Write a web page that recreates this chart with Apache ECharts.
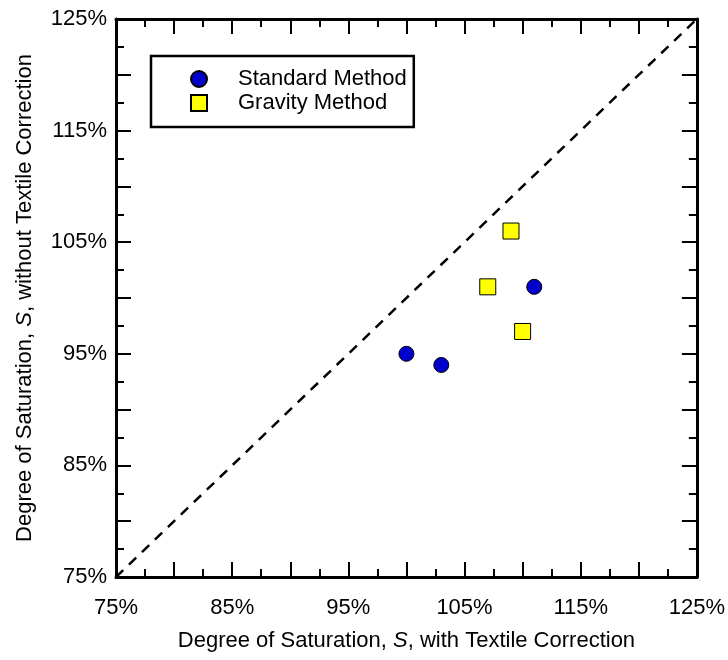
<!DOCTYPE html>
<html>
<head>
<meta charset="utf-8">
<script src="https://cdn.jsdelivr.net/npm/echarts@6/dist/echarts.min.js"></script>
<style>
  html, body { margin: 0; padding: 0; background: #fff; }
  #chart { width: 728px; height: 660px; }
</style>
</head>
<body>
<div id="chart"></div>
<script>
// Degree of saturation (%) with vs. without the textile correction
const seriesNames = ['Standard Method', 'Gravity Method'];
const standardWith = [100, 103, 111];
const standardWithout = [95, 94, 101];
const gravityWith = [107, 109, 110];
const gravityWithout = [101, 106, 97];
// 1:1 reference line end points
const equalityLine = [75, 125];
const axisMin = 75;
const axisMax = 125;
const labelStep = 10;

const FONT = 'Liberation Sans, Arial, Helvetica, sans-serif';
const FS = 22;
const pairs = (xs, ys) => xs.map((x, i) => [x, ys[i]]);
const pctLabel = v => ((v - axisMin) % labelStep === 0 ? v + '%' : '');

function baseAxis(extra) {
  return Object.assign({
    type: 'value',
    min: axisMin,
    max: axisMax,
    interval: 5,
    splitLine: { show: false },
    axisLine: { show: true, onZero: false, lineStyle: { color: '#000', width: 3 } },
    axisTick: { show: true, inside: true, length: 15, lineStyle: { color: '#000', width: 2 } },
    minorTick: { show: true, splitNumber: 2, length: 8, lineStyle: { color: '#000', width: 2 } },
    axisLabel: { show: false }
  }, extra);
}

const labelStyle = { show: true, formatter: pctLabel, color: '#000', fontSize: FS, fontFamily: FONT };
const nameStyle = {
  color: '#000', fontSize: FS, fontFamily: FONT,
  rich: { i: { fontStyle: 'italic', fontSize: FS, fontFamily: FONT, color: '#000' } }
};

const chart = echarts.init(document.getElementById('chart'), null, { renderer: 'canvas' });
chart.setOption({
  animation: false,
  backgroundColor: '#fff',
  grid: { left: 116, top: 19, right: 29, bottom: 83 },
  legend: {
    left: 151, top: 56,
    orient: 'vertical',
    data: seriesNames,
    borderColor: '#000', borderWidth: 2.5, borderRadius: 0,
    padding: [11, 7, 12, 39],
    itemGap: 0,
    itemWidth: 16, itemHeight: 16,
    textStyle: { color: '#000', fontSize: FS, fontFamily: FONT, lineHeight: 24, padding: [0, 0, 0, 26] }
  },
  xAxis: [
    baseAxis({
      position: 'bottom',
      axisLabel: Object.assign({ margin: 20 }, labelStyle),
      name: 'Degree of Saturation, {i|S}, with Textile Correction',
      nameLocation: 'middle', nameGap: 53, nameTextStyle: nameStyle
    }),
    baseAxis({ position: 'top' })
  ],
  yAxis: [
    baseAxis({
      position: 'left',
      axisLabel: Object.assign({ margin: 9 }, labelStyle),
      name: 'Degree of Saturation, {i|S}, without Textile Correction',
      nameLocation: 'middle', nameGap: 80, nameTextStyle: nameStyle
    }),
    baseAxis({ position: 'right' })
  ],
  series: [
    {
      type: 'line',
      data: pairs(equalityLine, equalityLine),
      symbol: 'none',
      silent: true,
      z: 1,
      lineStyle: { color: '#000', width: 2.5, type: [10, 8] }
    },
    {
      name: seriesNames[0],
      type: 'scatter',
      data: pairs(standardWith, standardWithout),
      symbol: 'circle',
      symbolSize: 15,
      z: 3,
      itemStyle: { color: '#0000CC', borderColor: '#000', borderWidth: 1, opacity: 1 }
    },
    {
      name: seriesNames[1],
      type: 'scatter',
      data: pairs(gravityWith, gravityWithout),
      symbol: 'rect',
      symbolSize: 16,
      z: 3,
      itemStyle: { color: '#FFFF00', borderColor: '#000', borderWidth: 1, opacity: 1 }
    }
  ]
});
</script>
</body>
</html>
